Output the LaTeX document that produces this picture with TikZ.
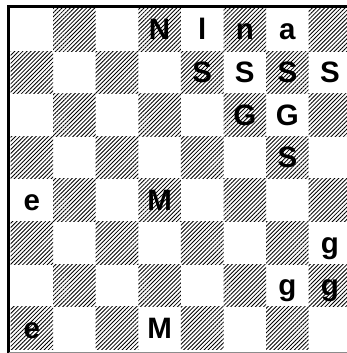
\documentclass[tikz,border=0pt]{standalone}
\usepackage{fontspec}
\setmainfont{Liberation Sans}
\usetikzlibrary{patterns.meta}
\begin{document}
\begin{tikzpicture}[x=1pt,y=-1pt,
  darksq/.style={pattern={Lines[angle=45,distance=2.9pt,line width=0.85pt]},pattern color=black},
  piece/.style={font=\bfseries\fontsize{29.5}{29.5}\selectfont, anchor=base, inner sep=0pt}]
\useasboundingbox (0,0) rectangle (347,353);
\begin{scope}
\clip (0,0) rectangle (347,353);
\foreach \r in {0,...,7}{
  \foreach \c in {0,...,7}{
    \ifodd\numexpr\r+\c\relax
      \fill[darksq] ({10.5+\c*42.6},{8.5+\r*42.6}) rectangle ++(42.6,42.6);
    \fi
  }
}
\draw[line width=3pt] (8.5,353) -- (8.5,6.5) -- (347,6.5);
\draw[black!45, line width=1pt] (8.5,352.5) -- (347,352.5);
\end{scope}
% row 0
\node[piece] (p01) at ({31.8+3*42.6},{40+0*42.6}) {N};
\node[piece] (p02) at ({31.8+4*42.6},{40+0*42.6}) {l};
\node[piece] (p03) at ({31.8+5*42.6},{40+0*42.6}) {n};
\node[piece] (p04) at ({31.8+6*42.6},{40+0*42.6}) {a};
% row 1
\node[piece] (p05) at ({31.8+4*42.6},{40+1*42.6}) {S};
\node[piece] (p06) at ({31.8+5*42.6},{40+1*42.6}) {S};
\node[piece] (p07) at ({31.8+6*42.6},{40+1*42.6}) {S};
\node[piece] (p08) at ({31.8+7*42.6},{40+1*42.6}) {S};
% row 2
\node[piece] (p09) at ({31.8+5*42.6},{40+2*42.6}) {G};
\node[piece] (p10) at ({31.8+6*42.6},{40+2*42.6}) {G};
% row 3
\node[piece] (p11) at ({31.8+6*42.6},{40+3*42.6}) {S};
% row 4
\node[piece] (p12) at ({31.8+0*42.6},{40+4*42.6}) {e};
\node[piece] (p13) at ({31.8+3*42.6},{40+4*42.6}) {M};
% row 5
\node[piece] (p14) at ({31.8+7*42.6},{40+5*42.6}) {g};
% row 6
\node[piece] (p15) at ({31.8+6*42.6},{40+6*42.6}) {g};
\node[piece] (p16) at ({31.8+7*42.6},{40+6*42.6}) {g};
% row 7
\node[piece] (p17) at ({31.8+0*42.6},{40+7*42.6}) {e};
\node[piece] (p18) at ({31.8+3*42.6},{40+7*42.6}) {M};
\end{tikzpicture}
\end{document}
